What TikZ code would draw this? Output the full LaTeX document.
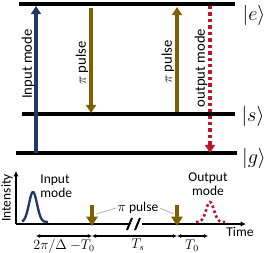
\documentclass[tikz,border=0pt]{standalone}
\usepackage{fontspec}
\setmainfont{Carlito}
\usetikzlibrary{arrows.meta,positioning,calc}
\definecolor{navyline}{RGB}{31,56,100}
\definecolor{goldline}{RGB}{127,96,0}
\definecolor{redline}{RGB}{186,22,50}

\begin{document}
\begin{tikzpicture}[x=0.03cm,y=-0.03cm,
      level/.style={line width=3.2pt},
      inarr/.style={-{Triangle[width=8.5pt,length=7pt]}, line width=2.8pt, navyline},
      piarr/.style={-{Triangle[width=8.5pt,length=7pt]}, line width=2.8pt, goldline},
      outarr/.style={-{Triangle[width=8.5pt,length=7pt]}, line width=2.9pt, redline,
                     dash pattern=on 2.9pt off 2.6pt},
      ket/.style={font=\fontsize{16}{18}\selectfont, inner sep=0.5pt},
      vlab/.style={rotate=90, font=\fontsize{12.5}{14}\selectfont, inner sep=1pt},
      lab/.style={font=\fontsize{11.5}{12}\selectfont, inner sep=1pt},
      span/.style={{Latex[length=3.5pt,width=3.5pt]}-{Latex[length=3.5pt,width=3.5pt]}, line width=1pt},
      axis/.style={line width=2pt},
      pulse/.style={-{Triangle[width=9.5pt,length=8pt]}, line width=3pt, goldline},
      pointer/.style={gray!55, line width=0.8pt}
    ]
    \useasboundingbox (0,0) rectangle (271,253);

    % energy levels
    \coordinate (eL) at (19,4);  \coordinate (eR) at (235,4);
    \coordinate (sL) at (22,114); \coordinate (sR) at (235,114);
    \coordinate (gL) at (16,153); \coordinate (gR) at (237,153);
    \draw[level] (eL) -- (eR);
    \draw[level] (sL) -- (sR);
    \draw[level] (gL) -- (gR);
    \node[ket] (kete) at (254,15) {$|e\rangle$};
    \node[ket] (kets) at (253,116) {$|s\rangle$};
    \node[ket] (ketg) at (254,158) {$|g\rangle$};

    % transitions
    \coordinate (in0) at (36,153);  \coordinate (in1) at (36,6);
    \coordinate (pa0) at (91,8);    \coordinate (pa1) at (91,113);
    \coordinate (pb0) at (177,112); \coordinate (pb1) at (177,7);
    \coordinate (out0) at (210,6);  \coordinate (out1) at (210,153);
    \draw[inarr] (in0) -- (in1);
    \draw[piarr] (pa0) -- (pa1);
    \draw[piarr] (pb0) -- (pb1);
    \draw[outarr] (out0) -- (out1);
    \node[vlab] (linput) at (28,64) {Input mode};
    \node[vlab] (lpia) at (82,63) {$\pi$ pulse};
    \node[vlab] (lpib) at (168,62) {$\pi$ pulse};
    \node[vlab] (loutput) at (201,68) {output mode};

    % time axis
    \coordinate (orig) at (16,224);
    \coordinate (ytop) at (16,171);
    \coordinate (brk0) at (129,224); \coordinate (brk1) at (142,224);
    \coordinate (xend) at (246,224);
    \draw[axis,-{Latex[length=4.5pt,width=4.5pt]}] (orig) -- (ytop);
    \draw[axis] (orig) -- (brk0);
    \draw[axis,-{Latex[length=4.5pt,width=4.5pt]}] (brk1) -- (xend);
    \draw[line width=1.7pt] (127,230) -- (132,218);
    \draw[line width=1.7pt] (135,230) -- (140,218);
    \node[lab,rotate=90] (lint) at (7,198) {Intensity};
    \node[lab] (ltime) at (240,232) {Time};

    % pulses
    \draw[navyline, line width=2pt]
      plot[domain=22:48, samples=50] (\x, {222-30*exp(-((\x-33)^2)/32)});
    \draw[redline, line width=2.2pt, dash pattern=on 2.2pt off 2.2pt]
      plot[domain=196:225, samples=60] (\x, {222-20*exp(-((\x-210)^2)/30)});
    \node[lab, align=left, anchor=west] (lin) at (39,186) {Input\\mode};
    \node[lab, align=center] (lout) at (208,184) {Output\\mode};

    \coordinate (pu0) at (92,205);  \coordinate (pu1) at (92,226);
    \coordinate (pv0) at (177,205); \coordinate (pv1) at (177,226);
    \draw[pulse] (pu0) -- (pu1);
    \draw[pulse] (pv0) -- (pv1);
    \node[lab] (lpulse) at (138,208) {$\pi$ pulse};
    \draw[pointer] (lpulse.west) -- (96,214);
    \draw[pointer] (lpulse.east) -- (174,214);

    % intervals
    \coordinate (t1) at (36,236);  \coordinate (t2) at (92,236);
    \coordinate (t3) at (177,236); \coordinate (t4) at (208,236);
    \draw[span] (t1) -- (t2);
    \draw[span] (t2) -- (t3);
    \draw[span] (t3) -- (t4);
    \node[lab] (lwait) at (64,246) {$2\pi/\Delta\ {-T_0}$};
    \node[lab] (lstore) at (138,245) {$T_s$};
    \node[lab] (lrel) at (192,246) {$T_0$};
  \end{tikzpicture}
\end{document}
